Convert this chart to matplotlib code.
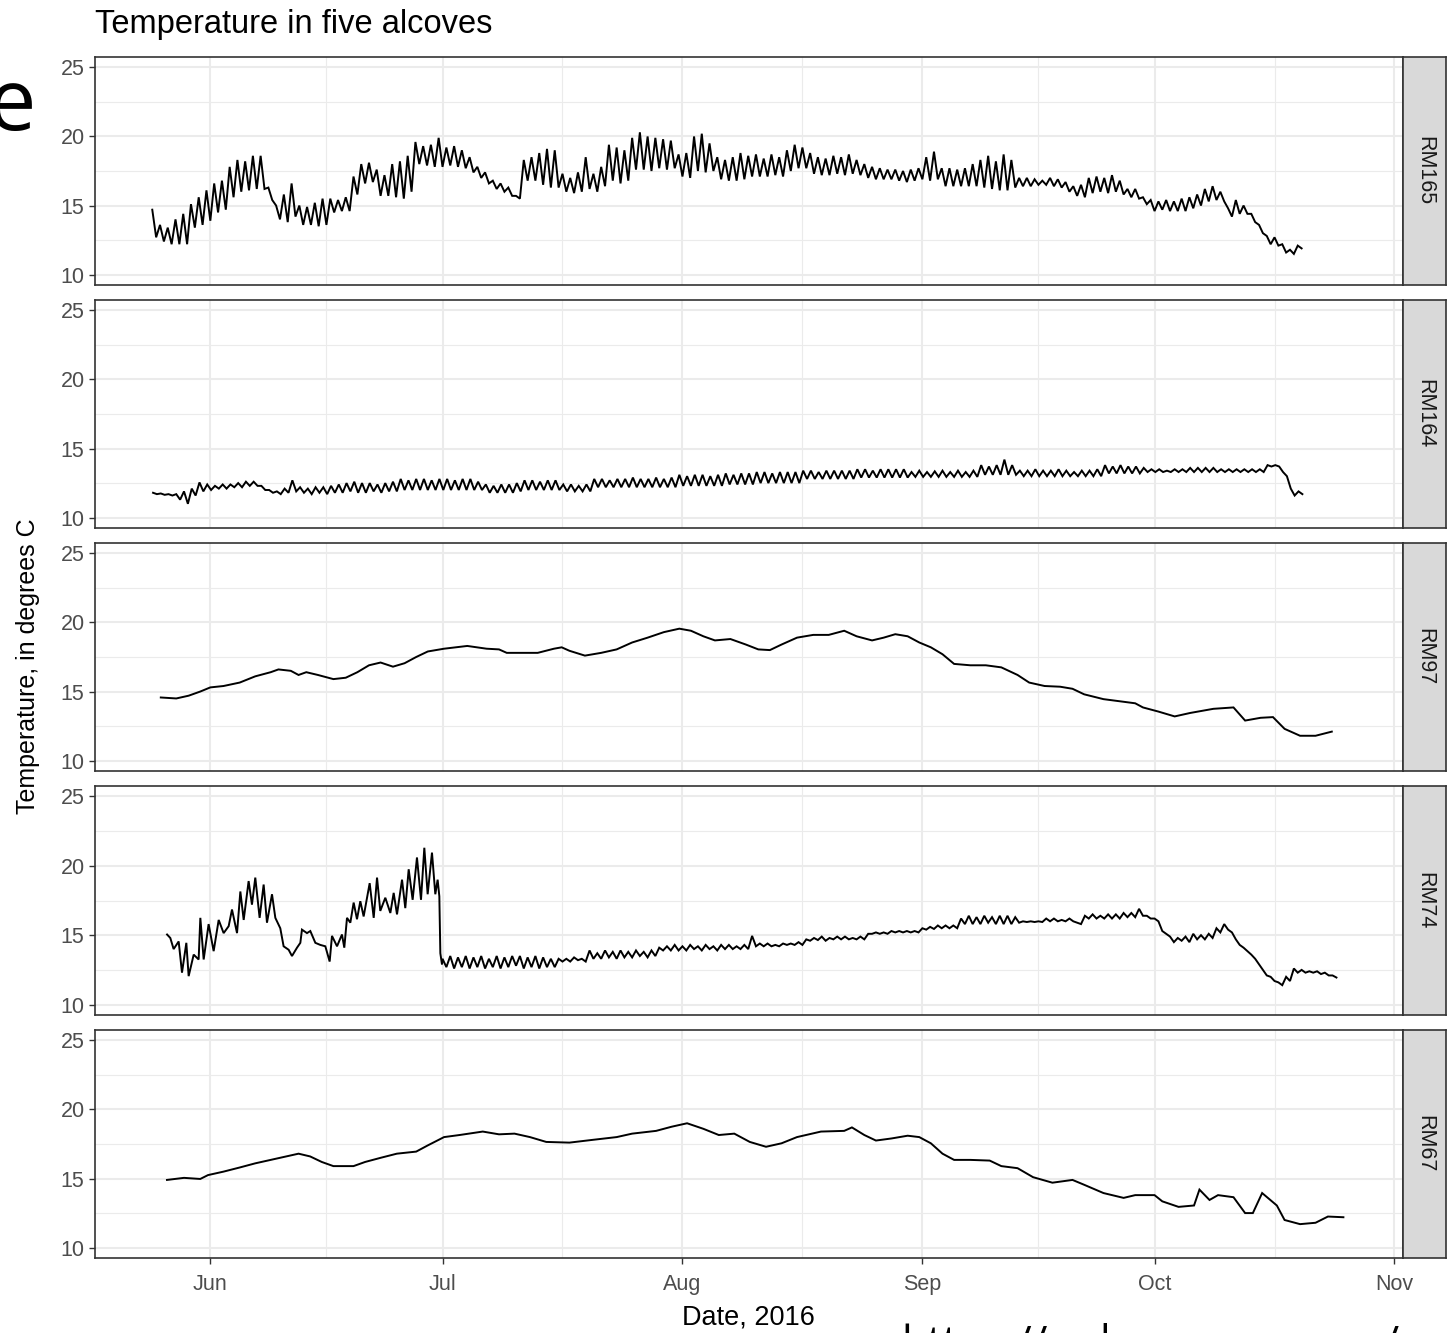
import matplotlib
matplotlib.use("Agg")
import matplotlib.pyplot as plt

# ---------------- data (days relative to 1 June 2016) ----------------
panel_names = ["RM165", "RM164", "RM97", "RM74", "RM67"]
month_ticks = [0, 30, 61, 92, 122, 153]
month_labels = ["Jun", "Jul", "Aug", "Sep", "Oct", "Nov"]
month_minor = [15, 45.5, 76.5, 107, 137.5]
temp_ticks = [10, 15, 20, 25]
temp_minor = [12.5, 17.5, 22.5]

# RM165: daily highs / lows, first day = -7.5
rm165_day0 = -7.5
rm165_hi = [14.7, 13.6, 13.4, 14.0, 14.4, 15.1, 15.6, 16.1, 16.6, 16.8,
            17.8, 18.3, 18.2, 18.6, 18.6, 16.3, 15.0, 15.8, 16.6, 15.0,
            14.9, 15.2, 15.5, 15.5, 15.4, 15.6, 17.1, 18.0, 18.1, 17.6,
            17.2, 18.0, 18.2, 18.6, 19.6, 19.3, 19.4, 19.9, 19.2, 19.3,
            19.0, 18.5, 17.8, 17.4, 16.8, 16.6, 16.3, 15.7, 18.3, 18.5,
            18.8, 19.1, 19.0, 17.3, 17.0, 17.4, 18.5, 17.3, 17.8, 19.4,
            19.2, 19.0, 19.9, 20.3, 20.0, 19.9, 19.8, 19.7, 18.7, 18.8,
            20.0, 20.2, 19.5, 18.5, 18.3, 18.5, 18.8, 18.6, 18.7, 18.4,
            18.7, 18.5, 19.0, 19.4, 19.2, 18.8, 18.5, 18.4, 18.6, 18.5,
            18.7, 18.3, 18.0, 17.8, 17.7, 17.6, 17.6, 17.5, 17.6, 17.7,
            18.5, 18.9, 17.7, 17.7, 17.6, 17.7, 18.0, 18.3, 18.6, 18.2,
            18.7, 18.3, 17.0, 17.0, 16.9, 16.8, 17.0, 16.9, 16.7, 16.4,
            16.5, 17.0, 17.1, 17.0, 17.2, 16.8, 16.2, 16.2, 15.6, 15.4,
            15.3, 15.4, 15.3, 15.5, 15.6, 15.8, 16.2, 16.4, 16.0, 14.8,
            15.4, 15.0, 14.4, 13.6, 12.8, 12.7, 12.2, 11.8, 12.1]
rm165_lo = [12.7, 12.4, 12.2, 12.2, 12.2, 13.4, 13.6, 13.9, 14.5, 14.7,
            15.6, 16.0, 16.1, 16.2, 16.2, 15.4, 14.0, 13.8, 14.2, 13.6,
            13.6, 13.5, 13.6, 14.5, 14.6, 14.6, 15.8, 16.6, 16.7, 15.7,
            15.7, 15.6, 15.5, 16.0, 18.0, 17.9, 17.8, 17.8, 17.9, 17.8,
            17.7, 17.4, 17.0, 16.6, 16.2, 16.0, 15.7, 15.5, 16.8, 16.8,
            16.5, 16.3, 16.3, 16.0, 15.9, 16.0, 16.2, 16.0, 16.4, 16.8,
            16.6, 16.8, 17.6, 17.6, 17.5, 17.7, 17.6, 17.7, 17.1, 17.0,
            17.5, 17.4, 17.5, 16.9, 16.8, 16.8, 16.9, 17.1, 17.1, 17.1,
            17.2, 17.1, 17.5, 17.7, 17.7, 17.3, 17.2, 17.2, 17.3, 17.2,
            17.3, 17.2, 17.0, 16.9, 16.9, 16.9, 16.8, 16.7, 16.8, 16.9,
            16.8, 16.9, 16.4, 16.4, 16.4, 16.4, 16.4, 16.3, 16.2, 16.1,
            16.1, 16.3, 16.4, 16.4, 16.5, 16.5, 16.4, 16.3, 16.0, 15.7,
            15.6, 15.9, 16.0, 15.9, 16.0, 15.8, 15.6, 15.5, 15.1, 14.6,
            14.7, 14.6, 14.6, 14.6, 14.8, 15.0, 15.3, 15.4, 15.3, 14.2,
            14.4, 14.4, 13.8, 13.0, 12.2, 12.1, 11.6, 11.5, 11.9]

# RM164: daily highs / lows, first day = -7.4
rm164_day0 = -7.4
rm164_hi = [11.8, 11.75, 11.7, 11.7, 11.9, 12.1, 12.55, 12.4, 12.3, 12.4,
            12.4, 12.5, 12.6, 12.6, 12.3, 12.0, 11.9, 12.1, 12.7, 12.2,
            12.1, 12.2, 12.2, 12.3, 12.4, 12.5, 12.6, 12.5, 12.5, 12.4,
            12.5, 12.6, 12.8, 12.7, 12.8, 12.8, 12.7, 12.8, 12.8, 12.7,
            12.8, 12.8, 12.6, 12.4, 12.3, 12.4, 12.4, 12.5, 12.7, 12.7,
            12.6, 12.7, 12.7, 12.4, 12.4, 12.3, 12.4, 12.8, 12.8, 12.7,
            12.8, 12.8, 12.9, 12.8, 12.8, 12.9, 12.8, 12.9, 13.1, 13.0,
            13.1, 13.1, 13.0, 13.1, 13.2, 13.1, 13.2, 13.2, 13.3, 13.3,
            13.2, 13.3, 13.3, 13.3, 13.4, 13.4, 13.3, 13.4, 13.4, 13.4,
            13.4, 13.5, 13.5, 13.4, 13.5, 13.5, 13.5, 13.5, 13.3, 13.4,
            13.3, 13.35, 13.4, 13.3, 13.4, 13.3, 13.4, 13.8, 13.7, 13.8,
            14.2, 13.8, 13.4, 13.4, 13.5, 13.4, 13.4, 13.5, 13.4, 13.3,
            13.4, 13.4, 13.5, 13.8, 13.7, 13.8, 13.7, 13.7, 13.6, 13.5,
            13.5, 13.4, 13.5, 13.5, 13.6, 13.6, 13.6, 13.6, 13.5, 13.5,
            13.5, 13.5, 13.5, 13.5, 13.8, 13.8, 13.3, 12.1, 11.9]
rm164_lo = [11.7, 11.65, 11.6, 11.3, 11.0, 11.6, 11.9, 12.0, 12.1, 12.1,
            12.2, 12.2, 12.3, 12.3, 12.0, 11.8, 11.7, 11.8, 11.9, 11.8,
            11.7, 11.8, 11.7, 11.8, 11.8, 11.9, 11.8, 11.8, 11.9, 11.8,
            11.9, 11.9, 12.0, 12.0, 12.0, 12.0, 12.0, 12.0, 12.0, 12.0,
            12.0, 12.0, 12.0, 11.8, 11.8, 11.8, 11.8, 11.9, 12.0, 12.0,
            12.0, 12.0, 12.0, 11.9, 11.9, 11.9, 11.9, 12.2, 12.2, 12.2,
            12.2, 12.2, 12.2, 12.2, 12.2, 12.2, 12.2, 12.2, 12.3, 12.3,
            12.3, 12.3, 12.3, 12.3, 12.4, 12.4, 12.4, 12.4, 12.5, 12.5,
            12.5, 12.5, 12.5, 12.5, 12.8, 12.8, 12.8, 12.8, 12.8, 12.8,
            12.8, 12.9, 12.9, 12.9, 12.9, 12.9, 12.9, 12.9, 12.95, 12.95,
            12.95, 12.95, 12.95, 12.95, 12.95, 12.95, 12.95, 13.1, 13.1, 13.1,
            13.1, 13.1, 13.0, 13.0, 13.0, 13.0, 13.0, 13.0, 13.0, 13.0,
            13.0, 13.0, 13.0, 13.2, 13.2, 13.2, 13.2, 13.2, 13.3, 13.3,
            13.3, 13.3, 13.3, 13.3, 13.3, 13.3, 13.3, 13.3, 13.3, 13.3,
            13.3, 13.3, 13.3, 13.3, 13.7, 13.7, 13.0, 11.6, 11.7]

# RM97: smooth trace (day, temperature)
rm97_day = [-6.4, -4.4, -2.8, -1.3, 0, 1.7, 3.8, 5.8, 7.8, 8.8, 10.4, 11.4,
            12.4, 13.9, 15.9, 17.5, 19.0, 20.5, 22.0, 23.6, 25.1, 26.6, 28.1,
            30.2, 33.2, 35.7, 37.3, 38.3, 42.3, 44.4, 45.4, 46.4, 48.4, 50.5,
            52.5, 54.5, 56.5, 58.6, 60.6, 62.1, 63.7, 65.2, 67.2, 69.2, 70.8,
            72.3, 73.8, 75.8, 77.9, 79.9, 81.9, 83.5, 85.5, 87.0, 88.5, 90.1,
            91.6, 93.1, 94.6, 96.1, 98.2, 100.2, 102.2, 104.3, 105.8, 107.8,
            109.8, 111.4, 112.9, 115.4, 119.5, 120.5, 122.5, 124.6, 126.6,
            129.6, 132.2, 133.7, 135.7, 137.3, 138.8, 140.8, 142.8, 144.9]
rm97_temp = [14.57, 14.5, 14.7, 15.0, 15.3, 15.4, 15.65, 16.1, 16.4, 16.6,
             16.5, 16.2, 16.4, 16.2, 15.9, 16.0, 16.4, 16.9, 17.1, 16.8,
             17.05, 17.5, 17.9, 18.1, 18.3, 18.1, 18.05, 17.8, 17.8, 18.1,
             18.2, 17.95, 17.6, 17.8, 18.05, 18.55, 18.9, 19.3, 19.55, 19.4,
             19.0, 18.7, 18.8, 18.4, 18.05, 18.0, 18.4, 18.9, 19.1, 19.1,
             19.4, 19.0, 18.7, 18.9, 19.15, 19.0, 18.55, 18.2, 17.7, 17.0,
             16.9, 16.9, 16.75, 16.2, 15.65, 15.4, 15.35, 15.2, 14.8, 14.45,
             14.15, 13.85, 13.55, 13.2, 13.45, 13.75, 13.85, 12.9, 13.1, 13.15,
             12.3, 11.8, 11.8, 12.1]

# RM74: early strongly oscillating part (day, temperature) ...
rm74_early_day = [-5.59, -5.17, -4.74, -4.09, -3.66, -3.10, -2.80, -2.15, -1.51,
                  -1.29, -0.86, -0.22, 0.43, 1.08, 1.72, 2.37, 2.80, 3.45, 3.88,
                  4.31, 4.95, 5.38, 5.81, 6.37, 6.89, 7.32, 7.97, 8.40, 9.04,
                  9.47, 10.12, 10.55, 11.20, 11.63, 11.84, 12.49, 12.92, 13.57,
                  14.21, 14.86, 15.42, 15.72, 16.37, 17.01, 17.31, 17.66, 18.09,
                  18.52, 18.95, 19.38, 19.81, 20.59, 21.11, 21.54, 21.96, 22.61,
                  23.26, 23.69, 24.12, 24.77, 25.19, 25.63, 26.14, 26.70, 27.22,
                  27.65, 28.08, 28.64, 29.07, 29.37, 29.59, 29.72, 29.93]
rm74_early_temp = [15.05, 14.8, 14.0, 14.55, 12.3, 14.45, 12.05, 13.6, 13.25,
                   16.25, 13.25, 15.8, 13.85, 16.1, 15.15, 15.65, 16.85, 15.15,
                   18.15, 16.1, 18.9, 17.2, 19.15, 16.25, 18.65, 15.9, 17.95,
                   16.25, 15.5, 14.2, 13.95, 13.5, 14.1, 14.45, 15.4, 15.15,
                   15.3, 14.45, 14.3, 14.2, 13.1, 14.95, 14.2, 15.05, 14.1,
                   16.25, 15.9, 17.35, 16.15, 17.45, 16.35, 18.75, 16.25, 19.15,
                   16.75, 17.7, 16.6, 18.05, 16.5, 19.0, 16.95, 19.75, 17.55,
                   20.6, 17.55, 21.3, 17.95, 20.95, 17.95, 19.0, 17.8, 13.7, 12.9]
# ... then daily highs / lows from day 30
rm74_day0 = 30.0
rm74_hi = [13.3, 13.5, 13.4, 13.5, 13.4, 13.5, 13.3, 13.5, 13.4, 13.5,
           13.5, 13.4, 13.5, 13.4, 13.3, 13.3, 13.3, 13.4, 13.3, 13.9,
           13.7, 13.9, 13.8, 13.9, 13.8, 13.9, 13.8, 13.9, 14.1, 14.2,
           14.3, 14.2, 14.3, 14.2, 14.3, 14.2, 14.3, 14.3, 14.2, 14.3,
           14.95, 14.4, 14.4, 14.3, 14.4, 14.4, 14.5, 14.7, 14.8, 14.9,
           14.8, 14.9, 14.9, 14.8, 14.9, 15.1, 15.2, 15.2, 15.3, 15.3,
           15.3, 15.3, 15.5, 15.6, 15.7, 15.7, 15.7, 16.2, 16.4, 16.3,
           16.4, 16.3, 16.4, 16.4, 16.3, 16.0, 16.0, 16.0, 16.2, 16.2,
           16.1, 16.2, 15.9, 16.4, 16.5, 16.4, 16.5, 16.5, 16.6, 16.6,
           16.9, 16.4, 16.2, 15.3, 14.9, 14.8, 14.9, 15.1, 15.0, 15.1,
           15.5, 15.8, 15.2, 14.3, 13.85, 13.3, 12.5, 12.0, 11.6, 12.0,
           12.6, 12.5, 12.4, 12.4, 12.3, 12.1]
rm74_lo = [12.7, 12.6, 12.7, 12.6, 12.7, 12.6, 12.7, 12.6, 12.7, 12.8,
           12.6, 12.7, 12.6, 12.7, 12.7, 13.1, 13.1, 13.2, 13.1, 13.3,
           13.3, 13.4, 13.3, 13.4, 13.4, 13.5, 13.4, 13.5, 13.9, 13.9,
           13.9, 13.9, 14.0, 13.9, 14.0, 13.9, 14.0, 14.0, 14.0, 14.0,
           14.2, 14.2, 14.2, 14.2, 14.3, 14.3, 14.3, 14.6, 14.65, 14.6,
           14.7, 14.7, 14.7, 14.7, 14.7, 15.1, 15.1, 15.1, 15.2, 15.2,
           15.2, 15.2, 15.4, 15.45, 15.5, 15.5, 15.5, 15.8, 15.8, 15.8,
           15.9, 15.8, 15.8, 15.8, 15.9, 15.95, 15.95, 15.95, 16.0, 16.0,
           16.0, 16.0, 15.8, 16.2, 16.2, 16.2, 16.2, 16.2, 16.3, 16.3,
           16.4, 16.2, 16.0, 15.1, 14.5, 14.6, 14.5, 14.7, 14.7, 14.8,
           15.2, 15.4, 14.7, 14.1, 13.6, 12.9, 12.1, 11.7, 11.4, 11.7,
           12.3, 12.3, 12.3, 12.2, 12.1, 11.95]

# RM67: smooth trace (day, temperature)
rm67_day = [-5.6, -3.4, -1.3, -0.3, 1.7, 3.8, 5.8, 7.8, 9.8, 11.4, 12.9, 14.4,
            15.9, 18.5, 20.0, 22.0, 24.1, 26.6, 28.1, 30.2, 32.2, 35.2, 37.3,
            39.3, 41.3, 43.4, 46.4, 49.4, 52.5, 54.5, 57.6, 59.6, 61.6, 63.7,
            65.7, 67.7, 69.7, 71.8, 73.8, 75.8, 78.9, 81.9, 82.9, 84.5, 86.0,
            88.0, 90.1, 91.6, 93.1, 94.6, 96.1, 98.2, 100.7, 102.2, 104.3,
            106.3, 108.8, 111.4, 112.9, 115.4, 118.0, 119.5, 122.0, 123.0,
            125.1, 127.1, 127.8, 129.1, 130.2, 132.2, 133.7, 134.7, 135.9,
            137.8, 138.8, 140.8, 142.8, 144.4, 146.4]
rm67_temp = [14.9, 15.05, 14.97, 15.25, 15.5, 15.8, 16.1, 16.35, 16.6, 16.8,
             16.6, 16.2, 15.9, 15.9, 16.2, 16.5, 16.8, 16.95, 17.4, 18.0,
             18.15, 18.4, 18.2, 18.25, 18.0, 17.65, 17.6, 17.8, 18.0, 18.25,
             18.45, 18.75, 19.0, 18.6, 18.15, 18.25, 17.65, 17.3, 17.55, 18.0,
             18.4, 18.45, 18.7, 18.15, 17.75, 17.9, 18.1, 18.0, 17.55, 16.8,
             16.35, 16.35, 16.3, 15.9, 15.75, 15.1, 14.7, 14.9, 14.55, 13.95,
             13.6, 13.8, 13.8, 13.35, 12.95, 13.05, 14.2, 13.45, 13.8, 13.65,
             12.5, 12.5, 13.95, 13.05, 12.0, 11.7, 11.8, 12.25, 12.2]


def zigzag(day0, hi, lo):
    t, v = [], []
    for i, (h, l) in enumerate(zip(hi, lo)):
        t += [day0 + i, day0 + i + 0.5]
        v += [h, l]
    return t, v


series = {}
series["RM165"] = zigzag(rm165_day0, rm165_hi, rm165_lo)
series["RM164"] = zigzag(rm164_day0, rm164_hi, rm164_lo)
series["RM97"] = (rm97_day, rm97_temp)
t74, v74 = zigzag(rm74_day0, rm74_hi, rm74_lo)
series["RM74"] = (rm74_early_day + t74, rm74_early_temp + v74)
series["RM67"] = (rm67_day, rm67_temp)

# ---------------- layout ----------------
W, H = 1451, 1333
fig = plt.figure(figsize=(W / 100, H / 100), dpi=100)
plt.rcParams["font.family"] = ["Liberation Sans", "DejaVu Sans"]

panel_y = [(57, 285), (300, 528), (543, 771), (786, 1015), (1030, 1258)]
x0, x1, sx1 = 95, 1403, 1446
grey_text = "#4D4D4D"
border = "#333333"
grid_col = "#EBEBEB"

for k, name in enumerate(panel_names):
    top, bot = panel_y[k]
    ax = fig.add_axes([x0 / W, 1 - bot / H, (x1 - x0) / W, (bot - top) / H])
    ax.set_xlim(-14.9, 154.1)
    ax.set_ylim(9.25, 25.75)
    ax.set_xticks(month_ticks)
    ax.set_xticks(month_minor, minor=True)
    ax.set_yticks(temp_ticks)
    ax.set_yticks(temp_minor, minor=True)
    ax.grid(which="major", color=grid_col, lw=1.5)
    ax.grid(which="minor", color=grid_col, lw=0.8)
    ax.set_axisbelow(True)
    for sp in ax.spines.values():
        sp.set_color(border)
        sp.set_linewidth(1.2)
    ax.tick_params(axis="y", which="major", length=4.5, width=1, color=border,
                   labelsize=15.5, labelcolor=grey_text, pad=3)
    ax.tick_params(which="minor", length=0)
    if k == len(panel_names) - 1:
        ax.set_xticklabels(month_labels)
        ax.tick_params(axis="x", which="major", length=4.5, width=1, color=border,
                       labelsize=15.5, labelcolor=grey_text, pad=7)
    else:
        ax.tick_params(axis="x", which="major", length=0, labelbottom=False)
    t, v = series[name]
    ax.plot(t, v, color="black", lw=1.4, solid_joinstyle="miter")

    # strip
    sax = fig.add_axes([x1 / W, 1 - bot / H, (sx1 - x1) / W, (bot - top) / H])
    sax.set_facecolor("#D9D9D9")
    sax.set_xticks([])
    sax.set_yticks([])
    for sp in sax.spines.values():
        sp.set_color(border)
        sp.set_linewidth(1.2)
    sax.text(0.5, 0.5, name, rotation=-90, ha="center", va="center",
             fontsize=15.5, color="#1A1A1A", transform=sax.transAxes)

fig.text(95 / W, 1 - 24 / H, "Temperature in five alcoves", fontsize=23.5,
         ha="left", va="center", color="black")
fig.text(28 / W, 1 - 666 / H, "Temperature, in degrees C", fontsize=18,
         rotation=90, ha="center", va="center", color="black")
fig.text(748 / W, 1 - 1318 / H, "Date, 2016", fontsize=19.5,
         ha="center", va="center", color="black")

# stray text fragments from the slide the chart was cut from
fig.text(36 / W, 1 - 130 / H, "e", fontsize=62, family="Open Sans",
         ha="right", va="baseline", color="black")
fig.text(901 / W, 1 - 1357 / H, "https://pubs.er.usgs.gov/publication",
         fontsize=31, family="Open Sans", ha="left", va="baseline", color="black")

fig.savefig("out.png", dpi=100)
